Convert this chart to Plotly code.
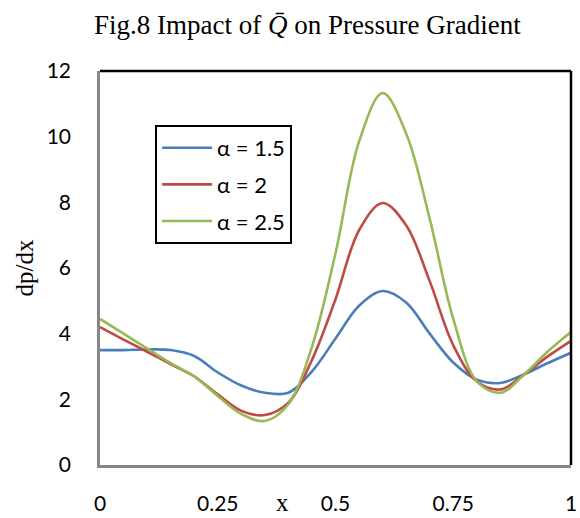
import plotly.graph_objects as go

# Axial position and pressure gradient for three values of alpha
x = [0.0, 0.05, 0.10, 0.15, 0.20, 0.25, 0.30, 0.35, 0.40, 0.45, 0.50,
     0.55, 0.60, 0.65, 0.70, 0.75, 0.80, 0.85, 0.90, 0.95, 1.0]

dp_alpha_15 = [3.50, 3.50, 3.52, 3.50, 3.32, 2.82, 2.42, 2.20, 2.20, 2.85, 3.85,
               4.85, 5.30, 4.95, 4.00, 3.12, 2.60, 2.50, 2.76, 3.10, 3.42]
dp_alpha_20 = [4.20, 3.82, 3.45, 3.07, 2.70, 2.15, 1.65, 1.52, 1.90, 3.20, 5.05,
               7.15, 7.98, 7.30, 5.60, 3.65, 2.55, 2.30, 2.75, 3.30, 3.78]
dp_alpha_25 = [4.45, 4.00, 3.55, 3.10, 2.70, 2.10, 1.55, 1.34, 1.85, 3.60, 6.45,
               9.85, 11.33, 10.10, 7.50, 4.45, 2.55, 2.20, 2.75, 3.45, 4.05]

series_names = ["α = 1.5", "α = 2", "α = 2.5"]
series_values = [dp_alpha_15, dp_alpha_20, dp_alpha_25]
series_colors = ["#4A7EBB", "#BE4B48", "#98B954"]

x_ticks = [0, 0.25, 0.5, 0.75, 1]
x_tick_text = ["0", "0.25", "0.5", "0.75", "1"]
y_ticks = [0, 2, 4, 6, 8, 10, 12]

fig = go.Figure()
for i, (name, vals, col) in enumerate(zip(series_names, series_values, series_colors)):
    fig.add_trace(go.Scatter(
        x=x, y=vals, name=name, mode="lines", legendgroup=f"g{i}",
        line=dict(color=col, width=2.6, shape="spline", smoothing=1.0),
    ))

sans = "Lato, Open Sans, sans-serif"
serif = "Liberation Serif, Times New Roman, serif"
tick_font = dict(family=sans, size=21, color="#000000")

fig.update_layout(
    width=580, height=518,
    margin=dict(l=100, r=9, t=71, b=53),
    paper_bgcolor="white", plot_bgcolor="white",
    title=dict(
        text="Fig.8 Impact of <i>Q̄</i> on Pressure Gradient",
        x=0.53, xanchor="center", y=0.952, yanchor="middle",
        font=dict(family=serif, size=27, color="#000000"),
    ),
    xaxis=dict(
        range=[0, 1], tickvals=x_ticks, ticktext=x_tick_text,
        showgrid=False, zeroline=False, automargin=False,
        showline=True, linecolor="#868686", linewidth=2.5,
        ticks="", ticklabelstandoff=18, tickfont=tick_font,
    ),
    yaxis=dict(
        range=[0, 12], tickvals=y_ticks,
        showgrid=False, zeroline=False, automargin=False,
        showline=True, linecolor="#868686", linewidth=2.5,
        ticks="", ticklabelstandoff=22, tickfont=tick_font,
        title=dict(text="dp/dx", font=dict(family=serif, size=25, color="#000000"),
                   standoff=6),
    ),
    legend=dict(
        x=0.117, y=0.863, xanchor="left", yanchor="top",
        bgcolor="white", bordercolor="#000000", borderwidth=2,
        font=dict(family=sans, size=22, color="#000000"),
        itemwidth=50, tracegroupgap=5,
    ),
    showlegend=True,
)

# Top and right frame lines of the plot area
fig.add_shape(type="line", xref="paper", yref="paper", x0=0, x1=1, y0=1, y1=1,
              line=dict(color="#000000", width=2.5))
fig.add_shape(type="line", xref="paper", yref="paper", x0=1, x1=1, y0=0, y1=1,
              line=dict(color="#000000", width=2.5))

# Axis title for x, placed on the tick-label row
fig.add_annotation(text="x", xref="paper", yref="paper", x=0.388, y=-0.094,
                   showarrow=False, xanchor="center", yanchor="middle",
                   font=dict(family=serif, size=25, color="#000000"))

fig.write_html("out.html")
